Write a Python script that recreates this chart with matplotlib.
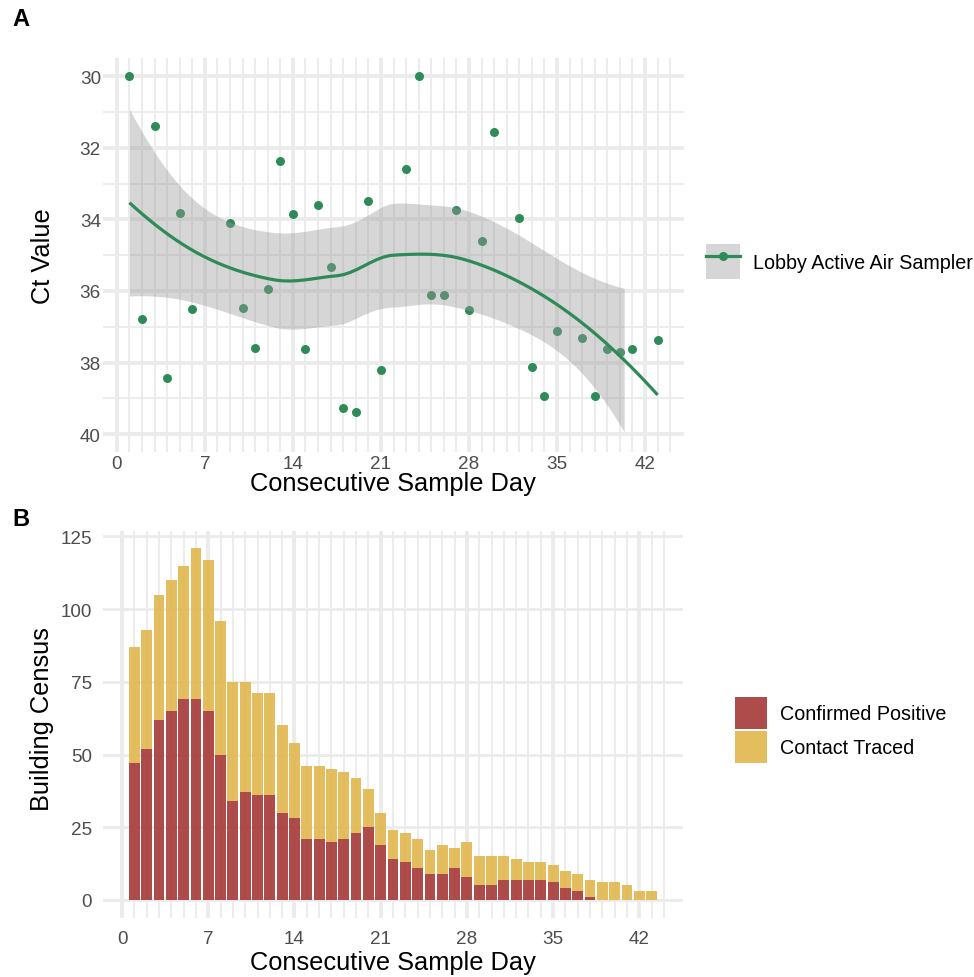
import numpy as np
import matplotlib
matplotlib.use("Agg")
import matplotlib.pyplot as plt
from matplotlib.patches import Patch
from matplotlib.lines import Line2D
from matplotlib.legend_handler import HandlerTuple

plt.rcParams['font.family'] = ['Liberation Sans', 'DejaVu Sans']

# ---------------- data ----------------
ct_days = [1, 2, 3, 4, 5, 6, 9, 10, 11, 12, 13, 14, 15, 16, 17, 18, 19, 20, 21,
           23, 24, 25, 26, 27, 28, 29, 30, 32, 33, 34, 35, 37, 38, 39, 40, 41, 43]
ct_values = [30.0, 36.79, 31.38, 38.42, 33.81, 36.51, 34.09, 36.48, 37.60, 35.95,
             32.37, 33.85, 37.63, 33.59, 35.33, 39.27, 39.39, 33.48, 38.21,
             32.60, 30.0, 36.11, 36.11, 33.75, 36.52, 34.61, 31.55, 33.95, 38.13,
             38.93, 37.13, 37.31, 38.93, 37.62, 37.71, 37.62, 37.38]
ct_label = "Lobby Active Air Sampler"

census_days = list(range(1, 44))
confirmed_positive = [47, 52, 62, 65, 69, 69, 65, 50, 34, 37, 36, 36, 30, 28, 21, 21,
                      20, 21, 23, 25, 19, 14, 13, 11, 9, 9, 11, 8, 5, 5, 7, 7, 7, 7,
                      6, 4, 3, 1, 0, 0, 0, 0, 0]
contact_traced = [40, 41, 43, 45, 46, 52, 52, 46, 41, 38, 35, 35, 30, 26, 25, 25,
                  25, 23, 19, 13, 11, 10, 10, 10, 8, 10, 7, 12, 10, 10, 8, 7, 6, 6,
                  6, 6, 6, 6, 6, 6, 5, 3, 3]
census_labels = ["Confirmed Positive", "Contact Traced"]

x_major = [0, 7, 14, 21, 28, 35, 42]
SMOOTH_SPAN = 0.9


# ------------- loess smooth (R-style kd-tree + Hermite interpolation) -------------
def loess_smooth(x, y, xout, span=0.75, cell=0.2):
    x = np.asarray(x, float); y = np.asarray(y, float)
    n = len(x)
    q = int(np.floor(n * span))
    fc = int(np.floor(n * span * cell))
    xsrt = np.sort(x)
    margin = 0.005 * (xsrt[-1] - xsrt[0])
    lo_b, hi_b = xsrt[0] - margin, xsrt[-1] + margin
    verts = [lo_b, hi_b]

    def build(l, u, a, b):  # 0-based inclusive
        if u - l + 1 <= fc:
            return
        m = (l + u + 2) // 2 - 1
        v = (xsrt[m] + xsrt[m + 1]) / 2 if m < u else xsrt[m]
        if v <= a or v >= b:
            return
        verts.append(v)
        build(l, m, a, v)
        build(m + 1, u, v, b)

    build(0, n - 1, lo_b, hi_b)
    verts = np.sort(np.array(verts))

    def local_rows(x0):
        d = np.abs(x - x0)
        h = np.sort(d)[q - 1]
        u = np.clip(d / h, 0, 1)
        w = (1 - u ** 3) ** 3
        X = np.column_stack([np.ones(n), x - x0, (x - x0) ** 2])
        XtW = X.T * w
        B = np.linalg.solve(XtW @ X, XtW)
        return B[0], B[1]

    vrows = [local_rows(v) for v in verts]

    def op_row(x0):
        j = np.searchsorted(verts, x0, side='right') - 1
        j = min(max(j, 0), len(verts) - 2)
        v0, v1 = verts[j], verts[j + 1]
        hh = v1 - v0
        t = (x0 - v0) / hh
        phi0 = (1 - t) ** 2 * (1 + 2 * t)
        phi1 = t ** 2 * (3 - 2 * t)
        psi0 = t * (1 - t) ** 2
        psi1 = -t ** 2 * (1 - t)
        f0, g0 = vrows[j]
        f1, g1 = vrows[j + 1]
        return phi0 * f0 + phi1 * f1 + hh * (psi0 * g0 + psi1 * g1)

    Ld = np.array([op_row(v) for v in x])
    Lo = np.array([op_row(v) for v in xout])
    IL = np.eye(n) - Ld
    M = IL.T @ IL
    d1 = np.trace(M); d2 = np.trace(M @ M)
    res = y - Ld @ y
    s = np.sqrt(np.sum(res ** 2) / d1)
    fit = Lo @ y
    se = s * np.sqrt(np.sum(Lo ** 2, axis=1))
    df = d1 ** 2 / d2
    z = 1.959964
    tq = z + (z ** 3 + z) / (4 * df) + (5 * z ** 5 + 16 * z ** 3 + 3 * z) / (96 * df ** 2)
    return fit, fit - tq * se, fit + tq * se


xs = np.linspace(min(ct_days), max(ct_days), 80)
fit, lo, hi = loess_smooth(ct_days, ct_values, xs, span=SMOOTH_SPAN)
valid = (lo >= 30) & (hi <= 40)

# ---------------- figure ----------------
W, H = 974, 978
fig = plt.figure(figsize=(W / 100, H / 100), dpi=100)


def px_axes(l, r, t, b):
    return fig.add_axes([l / W, 1 - b / H, (r - l) / W, (b - t) / H])


green = '#2e8b57'
grid_c = '#ebebeb'
tick_c = '#4d4d4d'
TICK_FS = 13.6
TITLE_FS = 18.3
LEG_FS = 14.2


def style(ax):
    for s in ax.spines.values():
        s.set_visible(False)
    ax.set_axisbelow(True)
    ax.tick_params(which='both', length=0, labelsize=TICK_FS, labelcolor=tick_c)


# ---- Panel A ----
axA = px_axes(103, 684, 59.3, 453)
style(axA)
axA.set_xlim(-1.1, 45.1)
axA.set_ylim(40.5, 29.5)
axA.set_xticks(x_major)
axA.set_xticks([d for d in range(1, 45) if d % 7 != 0], minor=True)
axA.set_yticks([30, 32, 34, 36, 38, 40])
axA.set_yticks([31, 33, 35, 37, 39], minor=True)
axA.grid(which='major', color=grid_c, lw=2.7)
axA.grid(which='minor', color=grid_c, lw=1.3)
axA.tick_params(axis='y', pad=1.5)
axA.tick_params(axis='x', pad=2.5)

axA.scatter(ct_days, ct_values, s=42, color=green, zorder=2, linewidths=0)
idx = np.where(valid)[0]
axA.fill_between(xs[idx], lo[idx], hi[idx], color='#999999', alpha=0.4, lw=0, zorder=3)
axA.plot(xs, fit, color=green, lw=2.3, zorder=4, solid_capstyle='butt')

handleA = (Patch(facecolor='#999999', alpha=0.4, edgecolor='none'),
           Line2D([], [], color=green, lw=2.3, marker='o', markersize=6.5,
                  markeredgewidth=0))
fig.legend([handleA], [ct_label], loc='center left',
           bbox_to_anchor=(706 / W, 1 - 262.5 / H), frameon=False,
           fontsize=LEG_FS, handlelength=1.72, handleheight=2.28,
           handletextpad=0.64, borderpad=0, borderaxespad=0,
           handler_map={tuple: HandlerTuple(ndivide=1, pad=0)})

fig.text(393 / W, 1 - 484 / H, 'Consecutive Sample Day', ha='center', va='center',
         fontsize=TITLE_FS)
fig.text(42.5 / W, 1 - 256 / H, 'Ct Value', ha='center', va='center', rotation=90,
         fontsize=TITLE_FS)
fig.text(12 / W, 1 - 19 / H, 'A', ha='left', va='center', fontsize=17,
         fontweight='bold')

# ---- Panel B ----
axB = px_axes(103, 683, 531.5, 918.5)
style(axB)
axB.set_xlim(-1.55, 45.55)
axB.set_ylim(-6.05, 127.05)
axB.set_xticks(x_major)
axB.set_xticks([d for d in range(1, 45) if d % 7 != 0], minor=True)
axB.set_yticks([0, 25, 50, 75, 100, 125])
axB.grid(axis='x', which='major', color=grid_c, lw=2.7)
axB.grid(axis='x', which='minor', color=grid_c, lw=1.3)
axB.grid(axis='y', which='major', color=grid_c, lw=2.0)
axB.tick_params(axis='y', pad=8)
axB.tick_params(axis='x', pad=9)

red = (165 / 255, 55 / 255, 55 / 255)
yellow = (225 / 255, 182 / 255, 77 / 255)
axB.bar(census_days, confirmed_positive, width=0.88, color=red, alpha=0.9,
        lw=0, label=census_labels[0])
axB.bar(census_days, contact_traced, width=0.88, bottom=confirmed_positive,
        color=yellow, alpha=0.9, lw=0, label=census_labels[1])

hB = [Patch(facecolor=red, alpha=0.9, edgecolor='none'),
      Patch(facecolor=yellow, alpha=0.9, edgecolor='none')]
fig.legend(hB, census_labels, loc='center left',
           bbox_to_anchor=(735 / W, 1 - 731 / H), frameon=False,
           fontsize=LEG_FS, handlelength=1.62, handleheight=2.12,
           handletextpad=0.66, labelspacing=0.1, borderpad=0, borderaxespad=0)

fig.text(393 / W, 1 - 963 / H, 'Consecutive Sample Day', ha='center', va='center',
         fontsize=TITLE_FS)
fig.text(42.5 / W, 1 - 719 / H, 'Building Census', ha='center', va='center',
         rotation=90, fontsize=TITLE_FS)
fig.text(12 / W, 1 - 519 / H, 'B', ha='left', va='center', fontsize=17,
         fontweight='bold')

fig.savefig('out.png', dpi=100, facecolor='white')
